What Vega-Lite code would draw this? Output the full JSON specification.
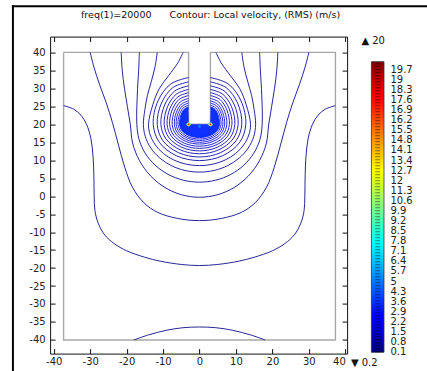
{
  "$schema": "https://vega.github.io/schema/vega-lite/v6.json",
  "background": "white",
  "padding": {"left": 11.1, "top": 4.6, "right": 0, "bottom": 0},
  "config": {
    "font": "DejaVu Sans",
    "view": {"stroke": null},
    "text": {"font": "DejaVu Sans"},
    "title": {"font": "DejaVu Sans"},
    "axis": {"grid": false, "labelFont": "DejaVu Sans", "labelFontSize": 10, "labelColor": "#222", "domainColor": "#111", "tickColor": "#111", "domainWidth": 1, "tickWidth": 1, "tickSize": -5}
  },
  "spacing": 24.3,
  "bounds": "flush",
  "hconcat": [
    {
      "width": 297,
      "height": 317,
      "title": {"text": "freq(1)=20000\u00a0\u00a0\u00a0\u00a0\u00a0\u00a0Contour: Local velocity, (RMS) (m/s)", "font": "DejaVu Sans", "fontSize": 9.5, "fontWeight": "normal", "color": "#111", "frame": "group", "offset": -15, "dx": 12},
      "resolve": {"axis": {"x": "independent", "y": "independent"}},
      "layer": [
        {
          "data": {"values": [
            {"x": -51.2, "y": 52.85, "x2": 62.2, "y2": 52.85},
            {"x": -51.2, "y": 52.85, "x2": -51.2, "y2": -48.5}
          ]},
          "mark": {"type": "rule", "color": "#000", "strokeWidth": 2, "strokeCap": "square"},
          "encoding": {
            "x": {"field": "x", "type": "quantitative", "scale": {"domain": [-41, 40.5], "nice": false, "zero": false}, "axis": null},
            "y": {"field": "y", "type": "quantitative", "scale": {"domain": [-43.8, 44.4], "nice": false, "zero": false}, "axis": null},
            "x2": {"field": "x2"},
            "y2": {"field": "y2"}
          }
        },
        {
          "data": {"values": [
            {"i": 0, "x": -37.3, "y": 40}, {"i": 1, "x": -3, "y": 40}, {"i": 2, "x": -3, "y": 20}, {"i": 3, "x": 3, "y": 20},
            {"i": 4, "x": 3, "y": 40}, {"i": 5, "x": 37.3, "y": 40}, {"i": 6, "x": 37.3, "y": -40}, {"i": 7, "x": -37.3, "y": -40},
            {"i": 8, "x": -37.3, "y": 40}
          ]},
          "mark": {"type": "line", "color": "#a8a8a8", "strokeWidth": 1.4, "strokeJoin": "miter"},
          "encoding": {
            "x": {"field": "x", "type": "quantitative", "scale": {"domain": [-41, 40.5], "nice": false, "zero": false},
                  "axis": {"orient": "bottom", "title": null, "values": [-40, -30, -20, -10, 0, 10, 20, 30, 40], "labelPadding": 8, "labelFlush": 2.5,
                           "labelExpr": "datum.value < 0 ? '-' + (-datum.value) : '' + datum.value"}},
            "y": {"field": "y", "type": "quantitative", "scale": {"domain": [-43.8, 44.4], "nice": false, "zero": false},
                  "axis": {"orient": "left", "title": null, "values": [-40, -35, -30, -25, -20, -15, -10, -5, 0, 5, 10, 15, 20, 25, 30, 35, 40], "labelPadding": 10, "labelFlush": false,
                           "labelExpr": "datum.value < 0 ? '-' + (-datum.value) : '' + datum.value"}},
            "order": {"field": "i", "type": "quantitative"}
          }
        },
        {
          "data": {"values": [
            {"x": -5.5, "y": 20, "y2": 20},
            {"x": -5.17, "y": 18.74, "y2": 22.38},
            {"x": -4.5, "y": 17.87, "y2": 23.84},
            {"x": -3.6, "y": 17.2, "y2": 24.66},
            {"x": -3.05, "y": 16.92, "y2": 24.8},
            {"x": -2.95, "y": 16.88, "y2": 20},
            {"x": -1.5, "y": 16.44, "y2": 20},
            {"x": 0, "y": 16.3, "y2": 20},
            {"x": 1.5, "y": 16.44, "y2": 20},
            {"x": 2.95, "y": 16.88, "y2": 20},
            {"x": 3.05, "y": 16.92, "y2": 24.8},
            {"x": 3.6, "y": 17.2, "y2": 24.66},
            {"x": 4.5, "y": 17.87, "y2": 23.84},
            {"x": 5.17, "y": 18.74, "y2": 22.38},
            {"x": 5.5, "y": 20, "y2": 20}
          ]},
          "mark": {"type": "area", "color": "#1030ff", "interpolate": "linear"},
          "encoding": {
            "x": {"field": "x", "type": "quantitative", "scale": {"domain": [-41, 40.5], "nice": false, "zero": false}, "axis": null},
            "y": {"field": "y", "type": "quantitative", "scale": {"domain": [-43.8, 44.4], "nice": false, "zero": false}, "axis": null},
            "y2": {"field": "y2"}
          }
        },
        {
          "data": {"values": [
            {"c": "L0", "v": 0.05, "i": 0, "x": -18, "y": -40},
            {"c": "L0", "v": 0.05, "i": 1, "x": -14, "y": -38.6},
            {"c": "L0", "v": 0.05, "i": 2, "x": -9, "y": -37.3},
            {"c": "L0", "v": 0.05, "i": 3, "x": -4.5, "y": -36.6},
            {"c": "L0", "v": 0.05, "i": 4, "x": 0, "y": -36.4},
            {"c": "L0", "v": 0.05, "i": 5, "x": 4.5, "y": -36.6},
            {"c": "L0", "v": 0.05, "i": 6, "x": 9, "y": -37.3},
            {"c": "L0", "v": 0.05, "i": 7, "x": 14, "y": -38.6},
            {"c": "L0", "v": 0.05, "i": 8, "x": 18, "y": -40},

            {"c": "L1", "v": 0.1, "i": 0, "x": -37.3, "y": 25.2},
            {"c": "L1", "v": 0.1, "i": 1, "x": -34.5, "y": 24.2},
            {"c": "L1", "v": 0.1, "i": 2, "x": -32.5, "y": 22.5},
            {"c": "L1", "v": 0.1, "i": 3, "x": -31, "y": 20},
            {"c": "L1", "v": 0.1, "i": 4, "x": -29.8, "y": 16},
            {"c": "L1", "v": 0.1, "i": 5, "x": -29.2, "y": 10.8},
            {"c": "L1", "v": 0.1, "i": 6, "x": -29, "y": 6},
            {"c": "L1", "v": 0.1, "i": 7, "x": -28.9, "y": 0},
            {"c": "L1", "v": 0.1, "i": 8, "x": -28.7, "y": -4},
            {"c": "L1", "v": 0.1, "i": 9, "x": -27.8, "y": -7.5},
            {"c": "L1", "v": 0.1, "i": 10, "x": -26, "y": -10.8},
            {"c": "L1", "v": 0.1, "i": 11, "x": -23.4, "y": -13.2},
            {"c": "L1", "v": 0.1, "i": 12, "x": -20, "y": -15.2},
            {"c": "L1", "v": 0.1, "i": 13, "x": -15, "y": -17},
            {"c": "L1", "v": 0.1, "i": 14, "x": -10.7, "y": -18.1},
            {"c": "L1", "v": 0.1, "i": 15, "x": -5, "y": -19},
            {"c": "L1", "v": 0.1, "i": 16, "x": 0, "y": -19.3},
            {"c": "L1", "v": 0.1, "i": 17, "x": 5, "y": -19},
            {"c": "L1", "v": 0.1, "i": 18, "x": 10.7, "y": -18.1},
            {"c": "L1", "v": 0.1, "i": 19, "x": 15, "y": -17},
            {"c": "L1", "v": 0.1, "i": 20, "x": 20, "y": -15.2},
            {"c": "L1", "v": 0.1, "i": 21, "x": 23.4, "y": -13.2},
            {"c": "L1", "v": 0.1, "i": 22, "x": 26, "y": -10.8},
            {"c": "L1", "v": 0.1, "i": 23, "x": 27.8, "y": -7.5},
            {"c": "L1", "v": 0.1, "i": 24, "x": 28.7, "y": -4},
            {"c": "L1", "v": 0.1, "i": 25, "x": 28.9, "y": 0},
            {"c": "L1", "v": 0.1, "i": 26, "x": 29, "y": 6},
            {"c": "L1", "v": 0.1, "i": 27, "x": 29.2, "y": 10.8},
            {"c": "L1", "v": 0.1, "i": 28, "x": 29.8, "y": 16},
            {"c": "L1", "v": 0.1, "i": 29, "x": 31, "y": 20},
            {"c": "L1", "v": 0.1, "i": 30, "x": 32.5, "y": 22.5},
            {"c": "L1", "v": 0.1, "i": 31, "x": 34.5, "y": 24.2},
            {"c": "L1", "v": 0.1, "i": 32, "x": 37.3, "y": 25.2},

            {"c": "L2", "v": 0.15, "i": 0, "x": -30, "y": 40},
            {"c": "L2", "v": 0.15, "i": 1, "x": -29, "y": 36},
            {"c": "L2", "v": 0.15, "i": 2, "x": -27.4, "y": 31},
            {"c": "L2", "v": 0.15, "i": 3, "x": -25.6, "y": 26},
            {"c": "L2", "v": 0.15, "i": 4, "x": -23.9, "y": 20.5},
            {"c": "L2", "v": 0.15, "i": 5, "x": -22.3, "y": 14.5},
            {"c": "L2", "v": 0.15, "i": 6, "x": -20.5, "y": 8},
            {"c": "L2", "v": 0.15, "i": 7, "x": -18.4, "y": 2.5},
            {"c": "L2", "v": 0.15, "i": 8, "x": -15.3, "y": -1.8},
            {"c": "L2", "v": 0.15, "i": 9, "x": -11.5, "y": -4.5},
            {"c": "L2", "v": 0.15, "i": 10, "x": -6, "y": -6.2},
            {"c": "L2", "v": 0.15, "i": 11, "x": 0, "y": -6.8},
            {"c": "L2", "v": 0.15, "i": 12, "x": 6, "y": -6.2},
            {"c": "L2", "v": 0.15, "i": 13, "x": 11.5, "y": -4.5},
            {"c": "L2", "v": 0.15, "i": 14, "x": 15.3, "y": -1.8},
            {"c": "L2", "v": 0.15, "i": 15, "x": 18.4, "y": 2.5},
            {"c": "L2", "v": 0.15, "i": 16, "x": 20.5, "y": 8},
            {"c": "L2", "v": 0.15, "i": 17, "x": 22.3, "y": 14.5},
            {"c": "L2", "v": 0.15, "i": 18, "x": 23.9, "y": 20.5},
            {"c": "L2", "v": 0.15, "i": 19, "x": 25.6, "y": 26},
            {"c": "L2", "v": 0.15, "i": 20, "x": 27.4, "y": 31},
            {"c": "L2", "v": 0.15, "i": 21, "x": 29, "y": 36},
            {"c": "L2", "v": 0.15, "i": 22, "x": 30, "y": 40},

            {"c": "L3", "v": 0.2, "i": 0, "x": -21.5, "y": 40},
            {"c": "L3", "v": 0.2, "i": 1, "x": -21.2, "y": 35},
            {"c": "L3", "v": 0.2, "i": 2, "x": -20.6, "y": 30},
            {"c": "L3", "v": 0.2, "i": 3, "x": -19.8, "y": 25},
            {"c": "L3", "v": 0.2, "i": 4, "x": -19, "y": 20},
            {"c": "L3", "v": 0.2, "i": 5, "x": -18.35, "y": 14.75},
            {"c": "L3", "v": 0.2, "i": 6, "x": -16.45, "y": 9.85},
            {"c": "L3", "v": 0.2, "i": 7, "x": -13.43, "y": 5.65},
            {"c": "L3", "v": 0.2, "i": 8, "x": -9.5, "y": 2.42},
            {"c": "L3", "v": 0.2, "i": 9, "x": -4.92, "y": 0.39},
            {"c": "L3", "v": 0.2, "i": 10, "x": 0, "y": -0.3},
            {"c": "L3", "v": 0.2, "i": 11, "x": 4.92, "y": 0.39},
            {"c": "L3", "v": 0.2, "i": 12, "x": 9.5, "y": 2.42},
            {"c": "L3", "v": 0.2, "i": 13, "x": 13.43, "y": 5.65},
            {"c": "L3", "v": 0.2, "i": 14, "x": 16.45, "y": 9.85},
            {"c": "L3", "v": 0.2, "i": 15, "x": 18.35, "y": 14.75},
            {"c": "L3", "v": 0.2, "i": 16, "x": 19, "y": 20},
            {"c": "L3", "v": 0.2, "i": 17, "x": 19.8, "y": 25},
            {"c": "L3", "v": 0.2, "i": 18, "x": 20.6, "y": 30},
            {"c": "L3", "v": 0.2, "i": 19, "x": 21.2, "y": 35},
            {"c": "L3", "v": 0.2, "i": 20, "x": 21.5, "y": 40},

            {"c": "L4", "v": 0.3, "i": 0, "x": -16.5, "y": 40},
            {"c": "L4", "v": 0.3, "i": 1, "x": -16.7, "y": 35},
            {"c": "L4", "v": 0.3, "i": 2, "x": -17, "y": 30},
            {"c": "L4", "v": 0.3, "i": 3, "x": -17.2, "y": 25},
            {"c": "L4", "v": 0.3, "i": 4, "x": -17.2, "y": 20},
            {"c": "L4", "v": 0.3, "i": 5, "x": -16.6, "y": 15.83},
            {"c": "L4", "v": 0.3, "i": 6, "x": -14.9, "y": 11.95},
            {"c": "L4", "v": 0.3, "i": 7, "x": -12.16, "y": 8.62},
            {"c": "L4", "v": 0.3, "i": 8, "x": -8.6, "y": 6.06},
            {"c": "L4", "v": 0.3, "i": 9, "x": -4.45, "y": 4.45},
            {"c": "L4", "v": 0.3, "i": 10, "x": 0, "y": 3.9},
            {"c": "L4", "v": 0.3, "i": 11, "x": 4.45, "y": 4.45},
            {"c": "L4", "v": 0.3, "i": 12, "x": 8.6, "y": 6.06},
            {"c": "L4", "v": 0.3, "i": 13, "x": 12.16, "y": 8.62},
            {"c": "L4", "v": 0.3, "i": 14, "x": 14.9, "y": 11.95},
            {"c": "L4", "v": 0.3, "i": 15, "x": 16.6, "y": 15.83},
            {"c": "L4", "v": 0.3, "i": 16, "x": 17.2, "y": 20},
            {"c": "L4", "v": 0.3, "i": 17, "x": 17.2, "y": 25},
            {"c": "L4", "v": 0.3, "i": 18, "x": 17, "y": 30},
            {"c": "L4", "v": 0.3, "i": 19, "x": 16.7, "y": 35},
            {"c": "L4", "v": 0.3, "i": 20, "x": 16.5, "y": 40},

            {"c": "L5", "v": 0.4, "i": 0, "x": -11.6, "y": 40},
            {"c": "L5", "v": 0.4, "i": 1, "x": -12.2, "y": 36},
            {"c": "L5", "v": 0.4, "i": 2, "x": -13.2, "y": 32},
            {"c": "L5", "v": 0.4, "i": 3, "x": -14.3, "y": 28},
            {"c": "L5", "v": 0.4, "i": 4, "x": -15, "y": 24},
            {"c": "L5", "v": 0.4, "i": 5, "x": -15.4, "y": 20},
            {"c": "L5", "v": 0.4, "i": 6, "x": -14.87, "y": 16.56},
            {"c": "L5", "v": 0.4, "i": 7, "x": -13.34, "y": 13.35},
            {"c": "L5", "v": 0.4, "i": 8, "x": -10.89, "y": 10.6},
            {"c": "L5", "v": 0.4, "i": 9, "x": -7.7, "y": 8.48},
            {"c": "L5", "v": 0.4, "i": 10, "x": -3.99, "y": 7.15},
            {"c": "L5", "v": 0.4, "i": 11, "x": 0, "y": 6.7},
            {"c": "L5", "v": 0.4, "i": 12, "x": 3.99, "y": 7.15},
            {"c": "L5", "v": 0.4, "i": 13, "x": 7.7, "y": 8.48},
            {"c": "L5", "v": 0.4, "i": 14, "x": 10.89, "y": 10.6},
            {"c": "L5", "v": 0.4, "i": 15, "x": 13.34, "y": 13.35},
            {"c": "L5", "v": 0.4, "i": 16, "x": 14.87, "y": 16.56},
            {"c": "L5", "v": 0.4, "i": 17, "x": 15.4, "y": 20},
            {"c": "L5", "v": 0.4, "i": 18, "x": 15, "y": 24},
            {"c": "L5", "v": 0.4, "i": 19, "x": 14.3, "y": 28},
            {"c": "L5", "v": 0.4, "i": 20, "x": 13.2, "y": 32},
            {"c": "L5", "v": 0.4, "i": 21, "x": 12.2, "y": 36},
            {"c": "L5", "v": 0.4, "i": 22, "x": 11.6, "y": 40},

            {"c": "L6", "v": 0.5, "i": 0, "x": -4.5, "y": 40},
            {"c": "L6", "v": 0.5, "i": 1, "x": -6, "y": 37},
            {"c": "L6", "v": 0.5, "i": 2, "x": -8.5, "y": 33.5},
            {"c": "L6", "v": 0.5, "i": 3, "x": -11, "y": 30},
            {"c": "L6", "v": 0.5, "i": 4, "x": -12.8, "y": 25.5},
            {"c": "L6", "v": 0.5, "i": 5, "x": -14, "y": 20},
            {"c": "L6", "v": 0.5, "i": 6, "x": -13.52, "y": 17.02},
            {"c": "L6", "v": 0.5, "i": 7, "x": -12.12, "y": 14.25},
            {"c": "L6", "v": 0.5, "i": 8, "x": -9.9, "y": 11.87},
            {"c": "L6", "v": 0.5, "i": 9, "x": -7, "y": 10.04},
            {"c": "L6", "v": 0.5, "i": 10, "x": -3.62, "y": 8.89},
            {"c": "L6", "v": 0.5, "i": 11, "x": 0, "y": 8.5},
            {"c": "L6", "v": 0.5, "i": 12, "x": 3.62, "y": 8.89},
            {"c": "L6", "v": 0.5, "i": 13, "x": 7, "y": 10.04},
            {"c": "L6", "v": 0.5, "i": 14, "x": 9.9, "y": 11.87},
            {"c": "L6", "v": 0.5, "i": 15, "x": 12.12, "y": 14.25},
            {"c": "L6", "v": 0.5, "i": 16, "x": 13.52, "y": 17.02},
            {"c": "L6", "v": 0.5, "i": 17, "x": 14, "y": 20},
            {"c": "L6", "v": 0.5, "i": 18, "x": 12.8, "y": 25.5},
            {"c": "L6", "v": 0.5, "i": 19, "x": 11, "y": 30},
            {"c": "L6", "v": 0.5, "i": 20, "x": 8.5, "y": 33.5},
            {"c": "L6", "v": 0.5, "i": 21, "x": 6, "y": 37},
            {"c": "L6", "v": 0.5, "i": 22, "x": 4.5, "y": 40},

            {"c": "P1", "v": 0.65, "i": 0, "x": -3, "y": 33},
            {"c": "P1", "v": 0.65, "i": 1, "x": -7.85, "y": 31.26},
            {"c": "P1", "v": 0.65, "i": 2, "x": -11.4, "y": 26.5},
            {"c": "P1", "v": 0.65, "i": 3, "x": -12.7, "y": 20},
            {"c": "P1", "v": 0.65, "i": 4, "x": -11, "y": 14.95},
            {"c": "P1", "v": 0.65, "i": 5, "x": -6.35, "y": 11.25},
            {"c": "P1", "v": 0.65, "i": 6, "x": 0, "y": 9.9},
            {"c": "P1", "v": 0.65, "i": 7, "x": 6.35, "y": 11.25},
            {"c": "P1", "v": 0.65, "i": 8, "x": 11, "y": 14.95},
            {"c": "P1", "v": 0.65, "i": 9, "x": 12.7, "y": 20},
            {"c": "P1", "v": 0.65, "i": 10, "x": 11.4, "y": 26.5},
            {"c": "P1", "v": 0.65, "i": 11, "x": 7.85, "y": 31.26},
            {"c": "P1", "v": 0.65, "i": 12, "x": 3, "y": 33},

            {"c": "P2", "v": 0.8, "i": 0, "x": -3, "y": 31.8},
            {"c": "P2", "v": 0.8, "i": 1, "x": -7.3, "y": 30.22},
            {"c": "P2", "v": 0.8, "i": 2, "x": -10.45, "y": 25.9},
            {"c": "P2", "v": 0.8, "i": 3, "x": -11.6, "y": 20},
            {"c": "P2", "v": 0.8, "i": 4, "x": -10.05, "y": 15.45},
            {"c": "P2", "v": 0.8, "i": 5, "x": -5.8, "y": 12.12},
            {"c": "P2", "v": 0.8, "i": 6, "x": 0, "y": 10.9},
            {"c": "P2", "v": 0.8, "i": 7, "x": 5.8, "y": 12.12},
            {"c": "P2", "v": 0.8, "i": 8, "x": 10.05, "y": 15.45},
            {"c": "P2", "v": 0.8, "i": 9, "x": 11.6, "y": 20},
            {"c": "P2", "v": 0.8, "i": 10, "x": 10.45, "y": 25.9},
            {"c": "P2", "v": 0.8, "i": 11, "x": 7.3, "y": 30.22},
            {"c": "P2", "v": 0.8, "i": 12, "x": 3, "y": 31.8},

            {"c": "P3", "v": 0.95, "i": 0, "x": -3, "y": 30.7},
            {"c": "P3", "v": 0.95, "i": 1, "x": -6.8, "y": 29.27},
            {"c": "P3", "v": 0.95, "i": 2, "x": -9.58, "y": 25.35},
            {"c": "P3", "v": 0.95, "i": 3, "x": -10.6, "y": 20},
            {"c": "P3", "v": 0.95, "i": 4, "x": -9.18, "y": 15.9},
            {"c": "P3", "v": 0.95, "i": 5, "x": -5.3, "y": 12.9},
            {"c": "P3", "v": 0.95, "i": 6, "x": 0, "y": 11.8},
            {"c": "P3", "v": 0.95, "i": 7, "x": 5.3, "y": 12.9},
            {"c": "P3", "v": 0.95, "i": 8, "x": 9.18, "y": 15.9},
            {"c": "P3", "v": 0.95, "i": 9, "x": 10.6, "y": 20},
            {"c": "P3", "v": 0.95, "i": 10, "x": 9.58, "y": 25.35},
            {"c": "P3", "v": 0.95, "i": 11, "x": 6.8, "y": 29.27},
            {"c": "P3", "v": 0.95, "i": 12, "x": 3, "y": 30.7},

            {"c": "P4", "v": 1.1, "i": 0, "x": -3, "y": 29.7},
            {"c": "P4", "v": 1.1, "i": 1, "x": -6.35, "y": 28.4},
            {"c": "P4", "v": 1.1, "i": 2, "x": -8.8, "y": 24.85},
            {"c": "P4", "v": 1.1, "i": 3, "x": -9.7, "y": 20},
            {"c": "P4", "v": 1.1, "i": 4, "x": -8.4, "y": 16.3},
            {"c": "P4", "v": 1.1, "i": 5, "x": -4.85, "y": 13.59},
            {"c": "P4", "v": 1.1, "i": 6, "x": 0, "y": 12.6},
            {"c": "P4", "v": 1.1, "i": 7, "x": 4.85, "y": 13.59},
            {"c": "P4", "v": 1.1, "i": 8, "x": 8.4, "y": 16.3},
            {"c": "P4", "v": 1.1, "i": 9, "x": 9.7, "y": 20},
            {"c": "P4", "v": 1.1, "i": 10, "x": 8.8, "y": 24.85},
            {"c": "P4", "v": 1.1, "i": 11, "x": 6.35, "y": 28.4},
            {"c": "P4", "v": 1.1, "i": 12, "x": 3, "y": 29.7},

            {"c": "P5", "v": 1.3, "i": 0, "x": -3, "y": 28.8},
            {"c": "P5", "v": 1.3, "i": 1, "x": -5.95, "y": 27.62},
            {"c": "P5", "v": 1.3, "i": 2, "x": -8.11, "y": 24.4},
            {"c": "P5", "v": 1.3, "i": 3, "x": -8.9, "y": 20},
            {"c": "P5", "v": 1.3, "i": 4, "x": -7.71, "y": 16.65},
            {"c": "P5", "v": 1.3, "i": 5, "x": -4.45, "y": 14.2},
            {"c": "P5", "v": 1.3, "i": 6, "x": 0, "y": 13.3},
            {"c": "P5", "v": 1.3, "i": 7, "x": 4.45, "y": 14.2},
            {"c": "P5", "v": 1.3, "i": 8, "x": 7.71, "y": 16.65},
            {"c": "P5", "v": 1.3, "i": 9, "x": 8.9, "y": 20},
            {"c": "P5", "v": 1.3, "i": 10, "x": 8.11, "y": 24.4},
            {"c": "P5", "v": 1.3, "i": 11, "x": 5.95, "y": 27.62},
            {"c": "P5", "v": 1.3, "i": 12, "x": 3, "y": 28.8},

            {"c": "P6", "v": 1.5, "i": 0, "x": -3, "y": 28},
            {"c": "P6", "v": 1.5, "i": 1, "x": -5.6, "y": 26.93},
            {"c": "P6", "v": 1.5, "i": 2, "x": -7.5, "y": 24},
            {"c": "P6", "v": 1.5, "i": 3, "x": -8.2, "y": 20},
            {"c": "P6", "v": 1.5, "i": 4, "x": -7.1, "y": 16.95},
            {"c": "P6", "v": 1.5, "i": 5, "x": -4.1, "y": 14.72},
            {"c": "P6", "v": 1.5, "i": 6, "x": 0, "y": 13.9},
            {"c": "P6", "v": 1.5, "i": 7, "x": 4.1, "y": 14.72},
            {"c": "P6", "v": 1.5, "i": 8, "x": 7.1, "y": 16.95},
            {"c": "P6", "v": 1.5, "i": 9, "x": 8.2, "y": 20},
            {"c": "P6", "v": 1.5, "i": 10, "x": 7.5, "y": 24},
            {"c": "P6", "v": 1.5, "i": 11, "x": 5.6, "y": 26.93},
            {"c": "P6", "v": 1.5, "i": 12, "x": 3, "y": 28},

            {"c": "P7", "v": 1.7, "i": 0, "x": -3, "y": 27.2},
            {"c": "P7", "v": 1.7, "i": 1, "x": -5.25, "y": 26.24},
            {"c": "P7", "v": 1.7, "i": 2, "x": -6.9, "y": 23.6},
            {"c": "P7", "v": 1.7, "i": 3, "x": -7.5, "y": 20},
            {"c": "P7", "v": 1.7, "i": 4, "x": -6.5, "y": 17.25},
            {"c": "P7", "v": 1.7, "i": 5, "x": -3.75, "y": 15.24},
            {"c": "P7", "v": 1.7, "i": 6, "x": 0, "y": 14.5},
            {"c": "P7", "v": 1.7, "i": 7, "x": 3.75, "y": 15.24},
            {"c": "P7", "v": 1.7, "i": 8, "x": 6.5, "y": 17.25},
            {"c": "P7", "v": 1.7, "i": 9, "x": 7.5, "y": 20},
            {"c": "P7", "v": 1.7, "i": 10, "x": 6.9, "y": 23.6},
            {"c": "P7", "v": 1.7, "i": 11, "x": 5.25, "y": 26.24},
            {"c": "P7", "v": 1.7, "i": 12, "x": 3, "y": 27.2},

            {"c": "P8", "v": 1.9, "i": 0, "x": -3, "y": 26.5},
            {"c": "P8", "v": 1.9, "i": 1, "x": -4.95, "y": 25.63},
            {"c": "P8", "v": 1.9, "i": 2, "x": -6.38, "y": 23.25},
            {"c": "P8", "v": 1.9, "i": 3, "x": -6.9, "y": 20},
            {"c": "P8", "v": 1.9, "i": 4, "x": -5.98, "y": 17.5},
            {"c": "P8", "v": 1.9, "i": 5, "x": -3.45, "y": 15.67},
            {"c": "P8", "v": 1.9, "i": 6, "x": 0, "y": 15},
            {"c": "P8", "v": 1.9, "i": 7, "x": 3.45, "y": 15.67},
            {"c": "P8", "v": 1.9, "i": 8, "x": 5.98, "y": 17.5},
            {"c": "P8", "v": 1.9, "i": 9, "x": 6.9, "y": 20},
            {"c": "P8", "v": 1.9, "i": 10, "x": 6.38, "y": 23.25},
            {"c": "P8", "v": 1.9, "i": 11, "x": 4.95, "y": 25.63},
            {"c": "P8", "v": 1.9, "i": 12, "x": 3, "y": 26.5},

            {"c": "P9", "v": 2.1, "i": 0, "x": -3, "y": 25.9},
            {"c": "P9", "v": 2.1, "i": 1, "x": -4.7, "y": 25.11},
            {"c": "P9", "v": 2.1, "i": 2, "x": -5.94, "y": 22.95},
            {"c": "P9", "v": 2.1, "i": 3, "x": -6.4, "y": 20},
            {"c": "P9", "v": 2.1, "i": 4, "x": -5.54, "y": 17.75},
            {"c": "P9", "v": 2.1, "i": 5, "x": -3.2, "y": 16.1},
            {"c": "P9", "v": 2.1, "i": 6, "x": 0, "y": 15.5},
            {"c": "P9", "v": 2.1, "i": 7, "x": 3.2, "y": 16.1},
            {"c": "P9", "v": 2.1, "i": 8, "x": 5.54, "y": 17.75},
            {"c": "P9", "v": 2.1, "i": 9, "x": 6.4, "y": 20},
            {"c": "P9", "v": 2.1, "i": 10, "x": 5.94, "y": 22.95},
            {"c": "P9", "v": 2.1, "i": 11, "x": 4.7, "y": 25.11},
            {"c": "P9", "v": 2.1, "i": 12, "x": 3, "y": 25.9},

            {"c": "P10", "v": 2.4, "i": 0, "x": -3, "y": 25.3},
            {"c": "P10", "v": 2.4, "i": 1, "x": -4.45, "y": 24.59},
            {"c": "P10", "v": 2.4, "i": 2, "x": -5.51, "y": 22.65},
            {"c": "P10", "v": 2.4, "i": 3, "x": -5.9, "y": 20},
            {"c": "P10", "v": 2.4, "i": 4, "x": -5.11, "y": 17.95},
            {"c": "P10", "v": 2.4, "i": 5, "x": -2.95, "y": 16.45},
            {"c": "P10", "v": 2.4, "i": 6, "x": 0, "y": 15.9},
            {"c": "P10", "v": 2.4, "i": 7, "x": 2.95, "y": 16.45},
            {"c": "P10", "v": 2.4, "i": 8, "x": 5.11, "y": 17.95},
            {"c": "P10", "v": 2.4, "i": 9, "x": 5.9, "y": 20},
            {"c": "P10", "v": 2.4, "i": 10, "x": 5.51, "y": 22.65},
            {"c": "P10", "v": 2.4, "i": 11, "x": 4.45, "y": 24.59},
            {"c": "P10", "v": 2.4, "i": 12, "x": 3, "y": 25.3},

            {"c": "P11", "v": 2.7, "i": 0, "x": -3, "y": 24.8},
            {"c": "P11", "v": 2.7, "i": 1, "x": -4.25, "y": 24.16},
            {"c": "P11", "v": 2.7, "i": 2, "x": -5.17, "y": 22.4},
            {"c": "P11", "v": 2.7, "i": 3, "x": -5.5, "y": 20},
            {"c": "P11", "v": 2.7, "i": 4, "x": -4.76, "y": 18.15},
            {"c": "P11", "v": 2.7, "i": 5, "x": -2.75, "y": 16.8},
            {"c": "P11", "v": 2.7, "i": 6, "x": 0, "y": 16.3},
            {"c": "P11", "v": 2.7, "i": 7, "x": 2.75, "y": 16.8},
            {"c": "P11", "v": 2.7, "i": 8, "x": 4.76, "y": 18.15},
            {"c": "P11", "v": 2.7, "i": 9, "x": 5.5, "y": 20},
            {"c": "P11", "v": 2.7, "i": 10, "x": 5.17, "y": 22.4},
            {"c": "P11", "v": 2.7, "i": 11, "x": 4.25, "y": 24.16},
            {"c": "P11", "v": 2.7, "i": 12, "x": 3, "y": 24.8},

            {"c": "P12", "v": 3.0, "i": 0, "x": -3, "y": 24.3},
            {"c": "P12", "v": 3.0, "i": 1, "x": -4.05, "y": 23.72},
            {"c": "P12", "v": 3.0, "i": 2, "x": -4.82, "y": 22.15},
            {"c": "P12", "v": 3.0, "i": 3, "x": -5.1, "y": 20},
            {"c": "P12", "v": 3.0, "i": 4, "x": -4.42, "y": 18.3},
            {"c": "P12", "v": 3.0, "i": 5, "x": -2.55, "y": 17.06},
            {"c": "P12", "v": 3.0, "i": 6, "x": 0, "y": 16.6},
            {"c": "P12", "v": 3.0, "i": 7, "x": 2.55, "y": 17.06},
            {"c": "P12", "v": 3.0, "i": 8, "x": 4.42, "y": 18.3},
            {"c": "P12", "v": 3.0, "i": 9, "x": 5.1, "y": 20},
            {"c": "P12", "v": 3.0, "i": 10, "x": 4.82, "y": 22.15},
            {"c": "P12", "v": 3.0, "i": 11, "x": 4.05, "y": 23.72},
            {"c": "P12", "v": 3.0, "i": 12, "x": 3, "y": 24.3}
          ]},
          "mark": {"type": "line", "interpolate": "catmull-rom", "strokeWidth": 1, "strokeOpacity": 0.85},
          "encoding": {
            "x": {"field": "x", "type": "quantitative", "scale": {"domain": [-41, 40.5], "nice": false, "zero": false},
                  "axis": {"orient": "top", "title": null, "labels": false, "values": [-40, -30, -20, -10, 0, 10, 20, 30, 40]}},
            "y": {"field": "y", "type": "quantitative", "scale": {"domain": [-43.8, 44.4], "nice": false, "zero": false},
                  "axis": {"orient": "right", "title": null, "labels": false, "values": [-40, -35, -30, -25, -20, -15, -10, -5, 0, 5, 10, 15, 20, 25, 30, 35, 40]}},
            "detail": {"field": "c", "type": "nominal"},
            "order": {"field": "i", "type": "quantitative"},
            "color": {"field": "v", "type": "quantitative", "legend": null,
                      "scale": {"type": "linear", "domain": [0, 20.2], "range": ["#00007f", "#0000ff", "#007fff", "#00ffff", "#7fff7f", "#ffff00", "#ff7f00", "#ff0000", "#7f0000"]}}
          }
        },
        {
          "data": {"values": [
            {"x": -3, "y": 20, "v": 9}, {"x": -3, "y": 20, "v": 13}, {"x": -3, "y": 20, "v": 17},
            {"x": 3, "y": 20, "v": 9}, {"x": 3, "y": 20, "v": 13}, {"x": 3, "y": 20, "v": 17}
          ]},
          "mark": {"type": "point", "filled": true, "opacity": 1, "strokeWidth": 0},
          "encoding": {
            "x": {"field": "x", "type": "quantitative", "scale": {"domain": [-41, 40.5], "nice": false, "zero": false}, "axis": null},
            "y": {"field": "y", "type": "quantitative", "scale": {"domain": [-43.8, 44.4], "nice": false, "zero": false}, "axis": null},
            "color": {"field": "v", "type": "quantitative", "legend": null,
                      "scale": {"type": "linear", "domain": [0, 20.2], "range": ["#00007f", "#0000ff", "#007fff", "#00ffff", "#7fff7f", "#ffff00", "#ff7f00", "#ff0000", "#7f0000"]}},
            "size": {"field": "v", "type": "quantitative", "legend": null, "scale": {"domain": [9, 17], "range": [18, 4]}},
            "order": {"field": "v", "type": "quantitative"}
          }
        },
        {
          "data": {"values": [{"x": 0, "y": 19.4, "v": 6}]},
          "mark": {"type": "point", "filled": true, "opacity": 0.7, "size": 8, "strokeWidth": 0},
          "encoding": {
            "x": {"field": "x", "type": "quantitative", "scale": {"domain": [-41, 40.5], "nice": false, "zero": false}, "axis": null},
            "y": {"field": "y", "type": "quantitative", "scale": {"domain": [-43.8, 44.4], "nice": false, "zero": false}, "axis": null},
            "color": {"field": "v", "type": "quantitative", "legend": null,
                      "scale": {"type": "linear", "domain": [0, 20.2], "range": ["#00007f", "#0000ff", "#007fff", "#00ffff", "#7fff7f", "#ffff00", "#ff7f00", "#ff0000", "#7f0000"]}}
          }
        }
      ]
    },
    {
      "width": 12.6,
      "height": 317,
      "encoding": {
        "y": {"type": "quantitative", "scale": {"domain": [-0.04, 21.97], "nice": false, "zero": false},
              "axis": {"orient": "right", "title": null, "ticks": false, "domain": false, "labelPadding": 6, "labelOverlap": false, "labelFlush": false, "labelBound": false,
                       "labelExpr": "'' + datum.value",
                       "values": [0.1, 0.8, 1.5, 2.2, 2.9, 3.6, 4.3, 5, 5.7, 6.4, 7.1, 7.8, 8.5, 9.2, 9.9, 10.6, 11.3, 12, 12.7, 13.4, 14.1, 14.8, 15.5, 16.2, 16.9, 17.6, 18.3, 19, 19.7]}}
      },
      "layer": [
        {
          "data": {"values": [{"lo": 0.05, "hi": 20.23}]},
          "mark": {"type": "rect", "stroke": "#333", "strokeWidth": 0.8,
                   "fill": {"gradient": "linear", "x1": 0, "y1": 1, "x2": 0, "y2": 0,
                            "stops": [{"offset": 0, "color": "#00007f"}, {"offset": 0.125, "color": "#0000ff"}, {"offset": 0.25, "color": "#007fff"}, {"offset": 0.375, "color": "#00ffff"}, {"offset": 0.5, "color": "#7fff7f"}, {"offset": 0.625, "color": "#ffff00"}, {"offset": 0.75, "color": "#ff7f00"}, {"offset": 0.875, "color": "#ff0000"}, {"offset": 1, "color": "#7f0000"}]}},
          "encoding": {
            "x": {"datum": 0, "type": "quantitative", "scale": {"domain": [0, 1], "nice": false, "zero": false}, "axis": null},
            "x2": {"datum": 1},
            "y": {"field": "lo"},
            "y2": {"field": "hi"}
          }
        },
        {
          "data": {"values": [{"lo": 0.05, "hi": 20.23}]},
          "mark": {"type": "rule", "color": "#000", "strokeWidth": 5, "strokeDash": [1, 2], "opacity": 0.45},
          "encoding": {
            "x": {"datum": 0.5, "type": "quantitative", "axis": null},
            "y": {"field": "lo"},
            "y2": {"field": "hi"}
          }
        },
        {
          "data": {"values": [{"label": "▲ 20", "v": 20}]},
          "mark": {"type": "text", "align": "left", "baseline": "middle", "dx": -10, "dy": -24.3, "fontSize": 10, "font": "DejaVu Sans", "color": "#111"},
          "encoding": {
            "x": {"datum": 0, "type": "quantitative", "axis": null},
            "y": {"field": "v"},
            "text": {"field": "label"}
          }
        },
        {
          "data": {"values": [{"label": "▼ 0.2", "v": 0.2}]},
          "mark": {"type": "text", "align": "left", "baseline": "middle", "dx": -20.5, "dy": 13.2, "fontSize": 10, "font": "DejaVu Sans", "color": "#111"},
          "encoding": {
            "x": {"datum": 0, "type": "quantitative", "axis": null},
            "y": {"field": "v"},
            "text": {"field": "label"}
          }
        }
      ]
    }
  ]
}
